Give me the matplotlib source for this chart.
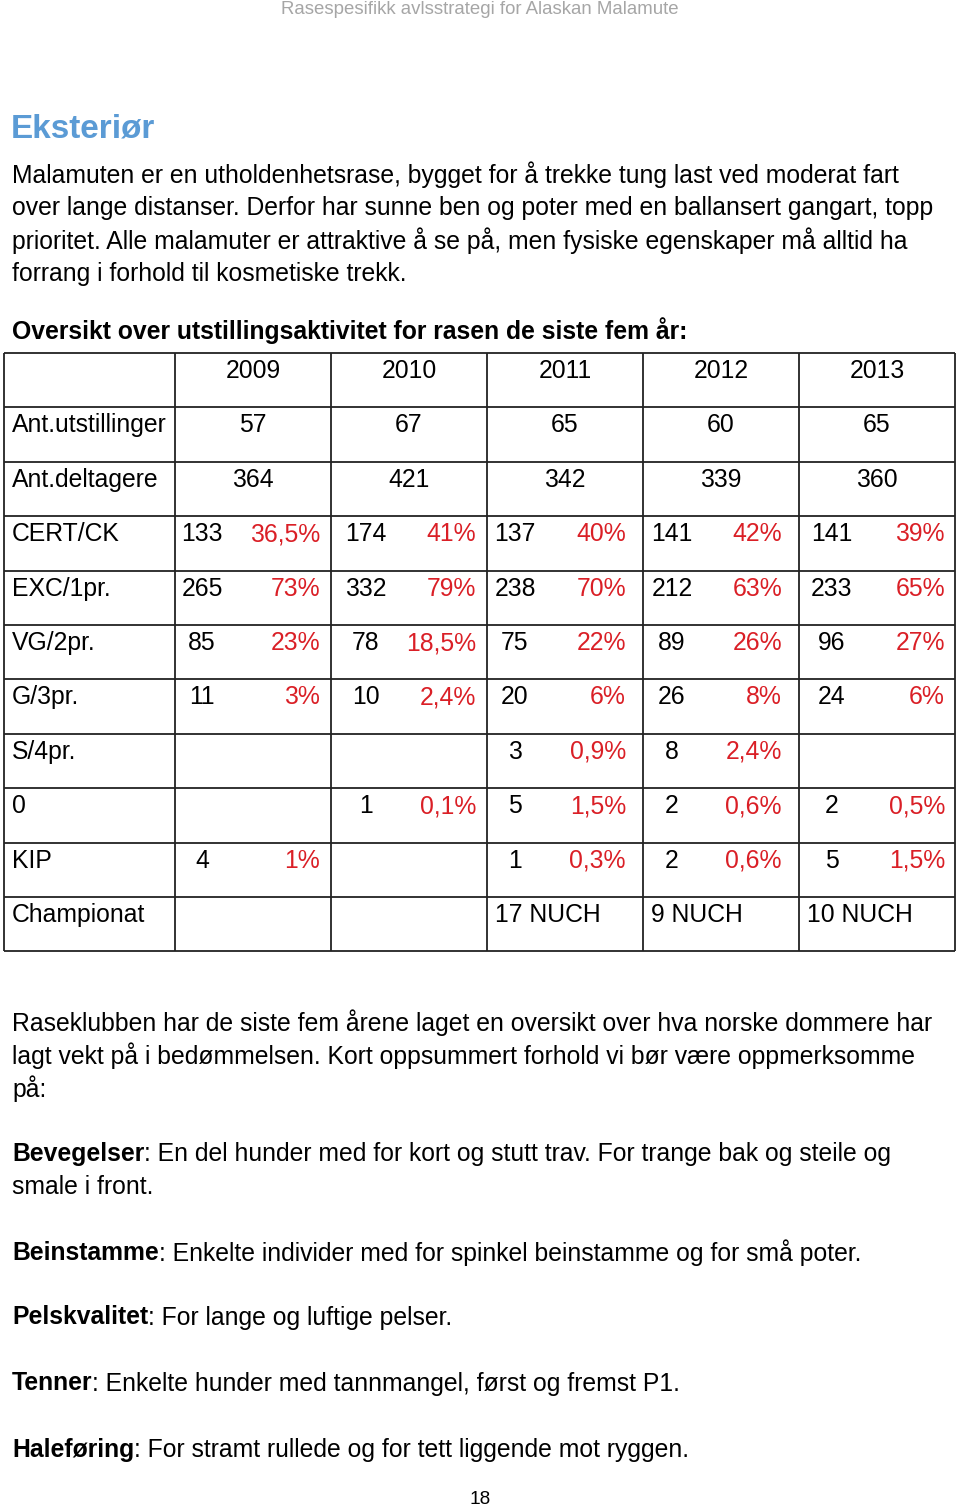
import matplotlib
matplotlib.use("Agg")
import matplotlib.pyplot as plt

W, H = 960, 1511
DPI = 100

header = "Rasespesifikk avlsstrategi for Alaskan Malamute"
heading = "Eksteriør"
intro = ["Malamuten er en utholdenhetsrase, bygget for å trekke tung last ved moderat fart",
         "over lange distanser. Derfor har sunne ben og poter med en ballansert gangart, topp",
         "prioritet. Alle malamuter er attraktive å se på, men fysiske egenskaper må alltid ha",
         "forrang i forhold til kosmetiske trekk."]
table_title = "Oversikt over utstillingsaktivitet for rasen de siste fem år:"

years = ["2009", "2010", "2011", "2012", "2013"]
row_labels = ["Ant.utstillinger", "Ant.deltagere", "CERT/CK", "EXC/1pr.", "VG/2pr.",
              "G/3pr.", "S/4pr.", "0", "KIP", "Championat"]
ant_utstillinger = ["57", "67", "65", "60", "65"]
ant_deltagere = ["364", "421", "342", "339", "360"]
cert_n = ["133", "174", "137", "141", "141"]
cert_p = ["36,5%", "41%", "40%", "42%", "39%"]
exc_n = ["265", "332", "238", "212", "233"]
exc_p = ["73%", "79%", "70%", "63%", "65%"]
vg_n = ["85", "78", "75", "89", "96"]
vg_p = ["23%", "18,5%", "22%", "26%", "27%"]
g_n = ["11", "10", "20", "26", "24"]
g_p = ["3%", "2,4%", "6%", "8%", "6%"]
s_n = ["", "", "3", "8", ""]
s_p = ["", "", "0,9%", "2,4%", ""]
zero_n = ["", "1", "5", "2", "2"]
zero_p = ["", "0,1%", "1,5%", "0,6%", "0,5%"]
kip_n = ["4", "", "1", "2", "5"]
kip_p = ["1%", "", "0,3%", "0,6%", "1,5%"]
championat = ["", "", "17 NUCH", "9 NUCH", "10 NUCH"]

after = ["Raseklubben har de siste fem årene laget en oversikt over hva norske dommere har",
         "lagt vekt på i bedømmelsen. Kort oppsummert forhold vi bør være oppmerksomme",
         "på:"]
remarks = [("Bevegelser", [": En del hunder med for kort og stutt trav. For trange bak og steile og",
                            "smale i front."]),
           ("Beinstamme", [": Enkelte individer med for spinkel beinstamme og for små poter."]),
           ("Pelskvalitet", [": For lange og luftige pelser."]),
           ("Tenner", [": Enkelte hunder med tannmangel, først og fremst P1."]),
           ("Haleføring", [": For stramt rullede og for tett liggende mot ryggen."])]
page_no = "18"

plt.rcParams['font.family'] = ['Liberation Sans', 'DejaVu Sans']
fig = plt.figure(figsize=(W / DPI, H / DPI), dpi=DPI)
ax = fig.add_axes([0, 0, 1, 1])
ax.set_xlim(0, W)
ax.set_ylim(H, 0)
ax.axis('off')

def px(s):
    return s * 72.0 / DPI

BODY = px(24.8)
RED = '#DA1F26'

ax.text(480, 10, header, ha='center', va='center', fontsize=px(18.7), color='#A6A6A6')
ax.text(11, 129, heading, ha='left', va='center', fontsize=px(33.3), color='#5B9BD5', fontweight='bold')
for i, line in enumerate(intro):
    ax.text(12, 174.5 + 33 * i, line, ha='left', va='center', fontsize=BODY)
ax.text(12, 330.5, table_title, ha='left', va='center', fontsize=BODY, fontweight='bold')

# table grid
col_x = [4, 175, 331, 487, 643, 799, 955]
num_off = [27, 35, 28, 29, 33]
pct_off = [11, 11, 17, 17, 10]
top, rh = 353, 54.4
nrows = 1 + len(row_labels)
bottom = top + rh * nrows
ax.hlines([top + rh * k for k in range(nrows + 1)], col_x[0], col_x[-1], color='#222222', lw=1.3)
ax.vlines(col_x, top, bottom, color='#222222', lw=1.3)

def ty(r):
    return top + rh * r + 18

for j, y in enumerate(years):
    ax.text((col_x[j + 1] + col_x[j + 2]) / 2, ty(0), y, ha='center', va='center', fontsize=BODY)
for i, lab in enumerate(row_labels):
    ax.text(col_x[0] + 8, ty(i + 1), lab, ha='left', va='center', fontsize=BODY)
for j in range(5):
    cx = (col_x[j + 1] + col_x[j + 2]) / 2
    ax.text(cx, ty(1), ant_utstillinger[j], ha='center', va='center', fontsize=BODY)
    ax.text(cx, ty(2), ant_deltagere[j], ha='center', va='center', fontsize=BODY)
pairs = [(cert_n, cert_p), (exc_n, exc_p), (vg_n, vg_p), (g_n, g_p), (s_n, s_p),
         (zero_n, zero_p), (kip_n, kip_p)]
for r, (ns, ps) in enumerate(pairs):
    for j in range(5):
        left = col_x[j + 1]
        right = col_x[j + 2]
        if ns[j]:
            ax.text(left + num_off[j], ty(r + 3), ns[j], ha='center', va='center', fontsize=BODY)
        if ps[j]:
            ax.text(right - pct_off[j], ty(r + 3), ps[j], ha='right', va='center', fontsize=BODY, color=RED)
for j in range(5):
    if championat[j]:
        ax.text(col_x[j + 1] + 8, ty(10), championat[j], ha='left', va='center', fontsize=BODY)

for i, line in enumerate(after):
    ax.text(12, 1022.5 + 33 * i, line, ha='left', va='center', fontsize=BODY)

ys = [1154.5, 1252.5, 1317.5, 1383.5, 1449.5]
fig.canvas.draw()
inv = ax.transData.inverted()
for (bold, rest), y in zip(remarks, ys):
    t = ax.text(12, y, bold, ha='left', va='center', fontsize=BODY, fontweight='bold')
    bb = t.get_window_extent(renderer=fig.canvas.get_renderer())
    x2 = inv.transform((bb.x1, bb.y0))[0]
    for k, line in enumerate(rest):
        if k == 0:
            ax.text(x2, y, line, ha='left', va='center', fontsize=BODY)
        else:
            ax.text(12, y + 33 * k, line, ha='left', va='center', fontsize=BODY)

ax.text(480, 1500, page_no, ha='center', va='center', fontsize=px(19))

fig.savefig('out.png', dpi=DPI)
